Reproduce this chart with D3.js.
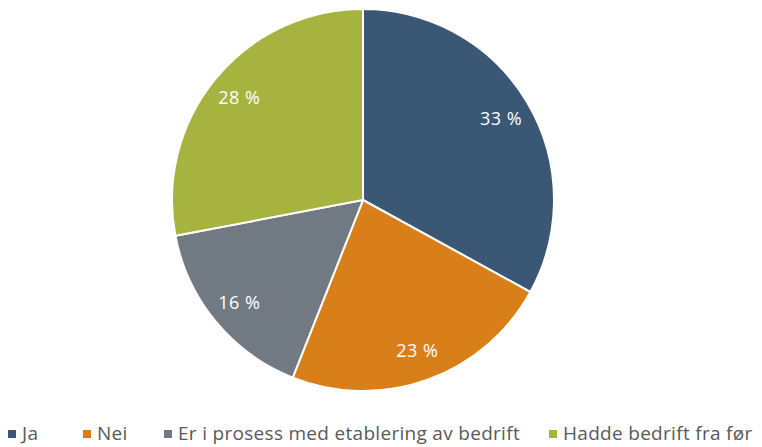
<!DOCTYPE html>
<html lang="no">
<head>
<meta charset="UTF-8">
<title>Pie</title>
<script src="https://cdn.jsdelivr.net/npm/d3@7"></script>
<style>
  body { margin: 0; background: #fff; }
  text { font-family: "Open Sans", "Noto Sans", sans-serif; }
</style>
</head>
<body>
<script>
// data
var categories = ["Ja", "Nei", "Er i prosess med etablering av bedrift", "Hadde bedrift fra før"];
var values = [33, 23, 16, 28];
var colors = ["#3A5876", "#D97F1A", "#717A82", "#A6B33F"];

var width = 762, height = 447;
var cx = 363, cy = 200, radius = 191;

var svg = d3.select("body").append("svg")
  .attr("width", width)
  .attr("height", height);

var pie = d3.pie().sort(null).value(function(d){ return d; });
var arcs = pie(values);
var arc = d3.arc().innerRadius(0).outerRadius(radius);
var labelArc = d3.arc().innerRadius(radius * 0.84).outerRadius(radius * 0.84);

var g = svg.append("g").attr("transform", "translate(" + cx + "," + cy + ")");

g.selectAll("path")
  .data(arcs)
  .enter()
  .append("path")
  .attr("d", arc)
  .attr("fill", function(d, i){ return colors[i]; })
  .attr("stroke", "#fff")
  .attr("stroke-width", 2);

g.selectAll("text")
  .data(arcs)
  .enter()
  .append("text")
  .attr("transform", function(d){ return "translate(" + labelArc.centroid(d) + ")"; })
  .attr("text-anchor", "middle")
  .attr("dy", "0.35em")
  .attr("fill", "#fff")
  .style("font-size", "18px")
  .style("letter-spacing", "0.5px")
  .text(function(d){ return d.data + " %"; });

// legend
var legend = svg.append("g").attr("transform", "translate(0,433)");
var xpos = [8, 83, 164, 549];
var items = legend.selectAll("g")
  .data(categories)
  .enter()
  .append("g")
  .attr("transform", function(d, i){ return "translate(" + xpos[i] + ",0)"; });

items.append("rect")
  .attr("x", 0).attr("y", -3)
  .attr("width", 8).attr("height", 8)
  .attr("fill", function(d, i){ return colors[i]; });

items.append("text")
  .attr("x", 14)
  .attr("dy", "0.35em")
  .attr("fill", "#595959")
  .style("font-size", "19px")
  .style("letter-spacing", "0.3px")
  .text(function(d){ return d; });
</script>
</body>
</html>
